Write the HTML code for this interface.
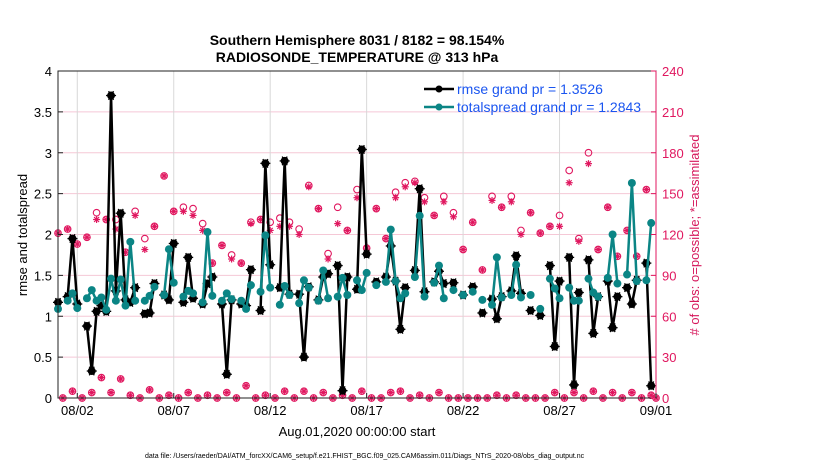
<!DOCTYPE html>
<html><head><meta charset="utf-8"><style>
html,body{margin:0;padding:0;background:#fff;}
svg{display:block;font-family:"Liberation Sans",sans-serif;}
</style></head><body>
<svg id="chart" width="830" height="470" viewBox="0 0 830 470">
<text x="357" y="45" text-anchor="middle" font-size="14" font-weight="bold">Southern Hemisphere 8031 / 8182 = 98.154%</text>
<text x="357" y="62" text-anchor="middle" font-size="14" font-weight="bold">RADIOSONDE_TEMPERATURE @ 313 hPa</text>
<g id="grid"></g>
<g id="marks"></g>
<g id="axes"></g>
<text x="0" y="0" transform="translate(27,235) rotate(-90)" text-anchor="middle" font-size="13">rmse and totalspread</text>
<text x="0" y="0" transform="translate(699,235) rotate(-90)" text-anchor="middle" font-size="13" fill="#d6185c"># of obs: o=possible; *=assimilated</text>
<text x="357" y="436" text-anchor="middle" font-size="13">Aug.01,2020 00:00:00 start</text>
<g>
<line x1="424" y1="89" x2="454" y2="89" stroke="#000" stroke-width="2.5"/>
<circle cx="439" cy="89" r="3.5" fill="#000"/>
<text x="457" y="94" font-size="14" fill="#1a55f0">rmse grand pr = 1.3526</text>
<line x1="424" y1="107" x2="454" y2="107" stroke="#0b8585" stroke-width="2.5"/>
<circle cx="439" cy="107" r="3.5" fill="#0b8585"/>
<text x="457" y="112" font-size="14" fill="#1a55f0">totalspread grand pr = 1.2843</text>
</g>
<text x="145" y="458" font-size="7">data file: /Users/raeder/DAI/ATM_forcXX/CAM6_setup/f.e21.FHIST_BGC.f09_025.CAM6assim.011/Diags_NTrS_2020-08/obs_diag_output.nc</text>
</svg>
<script>
// slot i -> day i/4 since Aug 01 00Z
const rmse = [1.17,null,1.24,1.95,1.15,null,0.88,0.33,1.06,1.13,1.06,3.70,1.31,2.26,1.20,1.17,1.35,null,1.03,1.04,1.40,null,1.26,1.20,1.89,null,1.17,1.72,1.22,null,1.15,1.40,1.48,null,1.15,0.29,1.20,null,1.15,1.13,1.57,null,1.07,2.87,1.63,null,1.35,2.90,1.27,null,1.27,0.50,1.36,null,1.20,1.48,1.52,null,1.62,0.09,1.48,null,1.33,3.04,1.76,null,1.42,null,1.48,1.86,1.43,0.84,1.35,null,1.56,2.56,1.30,null,1.42,1.55,1.40,null,1.41,null,1.26,null,1.36,null,1.04,null,1.21,0.97,1.24,null,1.31,1.74,1.28,null,1.07,null,1.01,null,1.62,0.63,1.43,null,1.72,0.16,1.29,null,1.69,0.79,1.24,null,1.43,0.86,1.24,null,1.35,1.15,1.44,null,1.65,0.15,null];
const spread = [1.09,null,1.19,1.28,1.10,null,1.22,1.32,1.19,1.23,1.08,1.46,1.19,1.45,1.13,1.91,1.19,null,1.19,1.25,1.36,null,1.26,1.82,1.41,null,1.24,1.31,1.28,null,1.17,2.03,1.25,null,1.19,1.28,1.21,null,1.19,1.09,1.38,null,1.30,1.99,1.35,null,1.14,1.37,1.26,null,1.16,1.44,1.35,null,1.19,1.56,1.22,null,1.24,1.47,1.26,null,1.44,1.32,1.53,null,1.38,null,1.42,2.06,1.43,1.22,1.28,null,1.48,2.23,1.24,null,1.41,1.62,1.22,null,1.32,null,1.26,null,1.30,null,1.20,null,1.14,1.72,1.23,null,1.26,1.63,1.23,null,1.26,null,1.09,null,1.46,1.34,1.22,null,1.35,1.19,1.19,null,1.46,1.29,1.24,null,1.47,2.00,1.40,null,1.51,2.63,1.43,null,1.44,2.14,null];
const possible = [121,0,124,5,113,0,118,4,136,15,131,4,131,14,107,2,137,0,117,6,126,0,163,2,137,0,140,4,139,0,128,2,99,0,112,4,105,0,99,9,129,0,131,2,129,0,132,5,129,0,124,5,156,0,139,4,106,0,140,2,123,0,153,5,110,0,139,0,117,4,151,5,158,0,159,2,147,0,134,4,148,0,136,0,109,0,129,0,94,0,148,2,140,0,148,2,123,0,136,0,121,0,126,4,134,0,167,4,117,0,180,5,109,0,140,4,104,0,123,4,104,0,153,2,0];
const assimilated = [121,0,124,5,113,0,118,4,131,15,131,4,124,14,107,2,134,0,109,6,126,0,163,2,137,0,137,4,134,0,123,2,99,0,112,4,102,0,99,9,128,0,131,2,123,0,126,5,126,0,120,5,155,0,139,4,102,0,128,2,123,0,147,5,110,0,139,0,117,4,147,5,155,0,158,2,144,0,134,4,144,0,133,0,109,0,129,0,94,0,145,2,140,0,144,2,120,0,136,0,121,0,126,4,126,0,158,4,115,0,172,5,109,0,140,4,104,0,123,4,104,0,153,2,0];
const xTickDays = [1,6,11,16,21,26,31];
const xTickLabels = ["08/02","08/07","08/12","08/17","08/22","08/27","09/01"];
const yTicks = [0,0.5,1,1.5,2,2.5,3,3.5,4];
const y2Ticks = [0,30,60,90,120,150,180,210,240];

const NS="http://www.w3.org/2000/svg";
const L=58,R=656,T=71,B=398;
const xS=d=>L+(d/31)*(R-L);
const yS=v=>B-(v/4)*(B-T);
const y2S=v=>B-(v/240)*(B-T);
function mk(tag,attrs,parent){const e=document.createElementNS(NS,tag);for(const k in attrs)e.setAttribute(k,attrs[k]);parent.appendChild(e);return e;}
const grid=document.getElementById('grid'),marks=document.getElementById('marks'),axes=document.getElementById('axes');

y2Ticks.forEach(v=>{if(v>0&&v<240){const g=mk('line',{x1:L,x2:R,y1:y2S(v),y2:y2S(v),stroke:'#f5c8d6','stroke-width':1},grid);

}});
xTickDays.forEach(d=>{if(d<31){const g=mk('line',{x1:xS(d),x2:xS(d),y1:T,y2:B,stroke:'#d8d8d8','stroke-width':1},grid);

}});

function drawSeries(vals,color,name,star){
  let seg=[];
  const segs=[];
  vals.forEach((v,i)=>{if(v===null){if(seg.length)segs.push(seg);seg=[];}else seg.push([xS(i/4),yS(v)]);});
  if(seg.length)segs.push(seg);
  segs.forEach(s=>{if(s.length>1){const p=mk('polyline',{points:s.map(q=>q.join(',')).join(' '),fill:'none',stroke:color,'stroke-width':2.5,'stroke-linejoin':'round'},marks);
  
  }});
  vals.forEach((v,i)=>{if(v===null)return;const x=xS(i/4),y=yS(v);
    const c=mk('circle',{cx:x,cy:y,r:4,fill:color},marks);
    
    
    if(star){for(let a=0;a<3;a++){const an=a*Math.PI/3;mk('line',{x1:x-5*Math.cos(an),y1:y-5*Math.sin(an),x2:x+5*Math.cos(an),y2:y+5*Math.sin(an),stroke:color,'stroke-width':1.3},marks);}}
  });
}
// obs counts
const pink='#e0175f';
possible.forEach((v,i)=>{const c=mk('circle',{cx:xS(i/4),cy:y2S(v),r:3.3,fill:'none',stroke:pink,'stroke-width':1.1},marks);

});
assimilated.forEach((v,i)=>{const x=xS(i/4),y=y2S(v);const g=mk('g',{},marks);


for(let a=0;a<4;a++){const an=a*Math.PI/4;mk('line',{x1:x-3.5*Math.cos(an),y1:y-3.5*Math.sin(an),x2:x+3.5*Math.cos(an),y2:y+3.5*Math.sin(an),stroke:pink,'stroke-width':1.2},g);}});
drawSeries(rmse,'#000','rmse',true);
drawSeries(spread,'#0b8585','totalspread',false);

// axes box
const bx=mk('rect',{x:L,y:T,width:R-L,height:B-T,fill:'none',stroke:'#222','stroke-width':1},axes);


mk('line',{x1:R,x2:R,y1:T,y2:B,stroke:pink,'stroke-width':1},axes);
yTicks.forEach(v=>{const y=yS(v);mk('line',{x1:L,x2:L+5,y1:y,y2:y,stroke:'#222'},axes);
const t=mk('text',{x:L-6,y:y+5,'text-anchor':'end','font-size':13},axes);t.textContent=String(v);

});
y2Ticks.forEach(v=>{const y=y2S(v);mk('line',{x1:R-5,x2:R,y1:y,y2:y,stroke:pink},axes);
const t=mk('text',{x:R+6,y:y+5,'font-size':13,fill:pink},axes);t.textContent=String(v);

});
xTickDays.forEach((d,i)=>{const x=xS(d);mk('line',{x1:x,x2:x,y1:B,y2:B-5,stroke:'#222'},axes);
const t=mk('text',{x:x,y:B+17,'text-anchor':'middle','font-size':13},axes);t.textContent=xTickLabels[i];

});
</script>
</body></html>
